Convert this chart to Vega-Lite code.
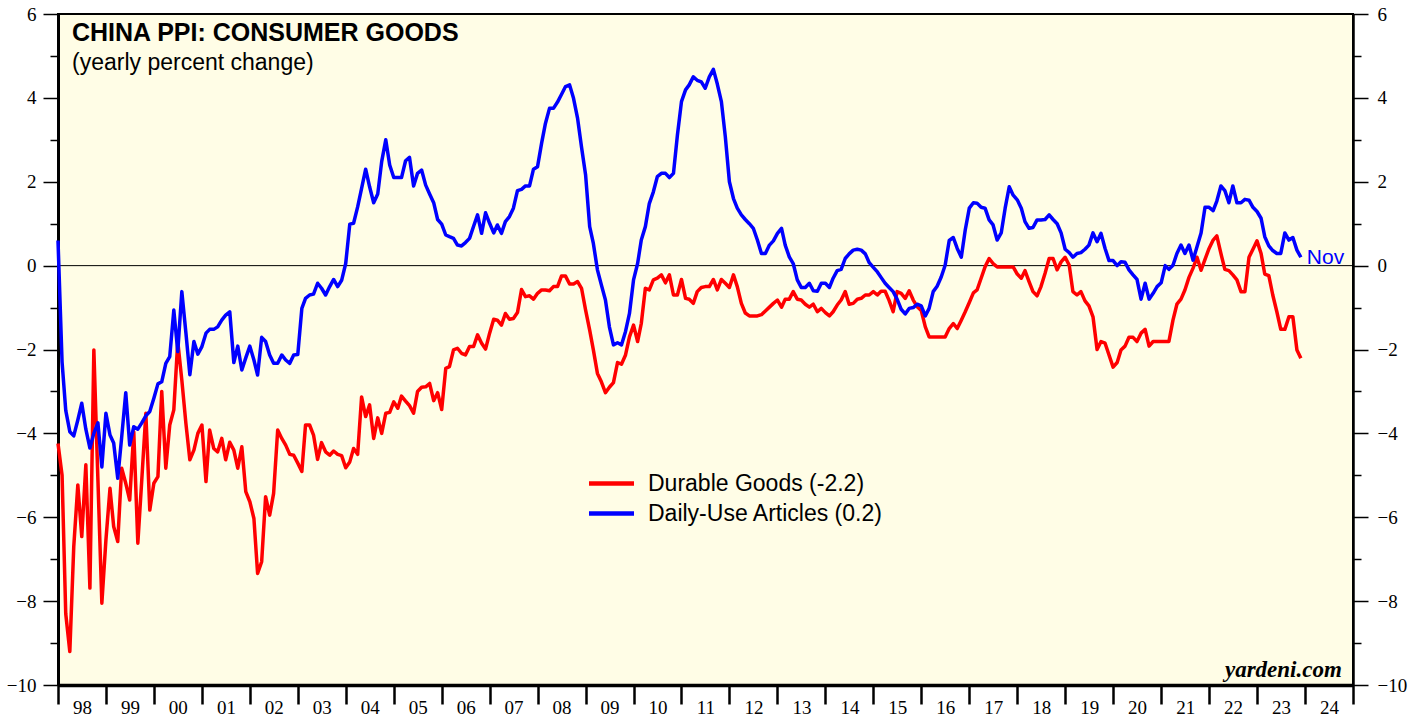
{
  "$schema": "https://vega.github.io/schema/vega-lite/v6.json",
  "width": 1295,
  "height": 671,
  "autosize": {"type": "none"},
  "padding": {"left": 58, "top": 14, "right": 56, "bottom": 30},
  "background": "white",
  "config": {
    "view": {"fill": "#FFFDE6", "stroke": "black", "strokeWidth": 2},
    "font": "Liberation Sans"
  },
  "title": {
    "text": "CHINA PPI: CONSUMER GOODS",
    "subtitle": "(yearly percent change)",
    "anchor": "start",
    "frame": "group",
    "orient": "top",
    "offset": 0,
    "dx": 14,
    "dy": 70,
    "font": "Liberation Sans",
    "fontSize": 25,
    "fontWeight": "bold",
    "color": "black",
    "subtitleFont": "Liberation Sans",
    "subtitleFontSize": 23,
    "subtitleColor": "black",
    "subtitlePadding": 6,
    "zindex": 1
  },
  "data": {
    "format": {"parse": {"d": "date:'%Y-%m'"}},
    "values": [
      {"d":"1997-12","r":-4.24,"b":0.6},
      {"d":"1998-01","r":-5.0,"b":-2.3},
      {"d":"1998-02","r":-8.3,"b":-3.45},
      {"d":"1998-03","r":-9.2,"b":-3.96},
      {"d":"1998-04","r":-6.7,"b":-4.06},
      {"d":"1998-05","r":-5.23,"b":-3.68},
      {"d":"1998-06","r":-6.46,"b":-3.28},
      {"d":"1998-07","r":-4.75,"b":-3.9},
      {"d":"1998-08","r":-7.69,"b":-4.35},
      {"d":"1998-09","r":-2.01,"b":-4.0},
      {"d":"1998-10","r":-5.11,"b":-3.75},
      {"d":"1998-11","r":-8.05,"b":-4.8},
      {"d":"1998-12","r":-6.54,"b":-3.52},
      {"d":"1999-01","r":-5.31,"b":-4.04},
      {"d":"1999-02","r":-6.22,"b":-4.23},
      {"d":"1999-03","r":-6.58,"b":-5.07},
      {"d":"1999-04","r":-4.83,"b":-4.09},
      {"d":"1999-05","r":-5.19,"b":-3.03},
      {"d":"1999-06","r":-5.59,"b":-4.28},
      {"d":"1999-07","r":-3.96,"b":-3.84},
      {"d":"1999-08","r":-6.62,"b":-3.9},
      {"d":"1999-09","r":-5.11,"b":-3.75},
      {"d":"1999-10","r":-3.52,"b":-3.58},
      {"d":"1999-11","r":-5.83,"b":-3.48},
      {"d":"1999-12","r":-5.19,"b":-3.16},
      {"d":"2000-01","r":-5.03,"b":-2.82},
      {"d":"2000-02","r":-3.0,"b":-2.77},
      {"d":"2000-03","r":-4.83,"b":-2.33},
      {"d":"2000-04","r":-3.8,"b":-2.17},
      {"d":"2000-05","r":-3.44,"b":-1.06},
      {"d":"2000-06","r":-1.81,"b":-2.05},
      {"d":"2000-07","r":-2.73,"b":-0.62},
      {"d":"2000-08","r":-3.76,"b":-1.6},
      {"d":"2000-09","r":-4.63,"b":-2.6},
      {"d":"2000-10","r":-4.4,"b":-1.81},
      {"d":"2000-11","r":-4.0,"b":-2.11},
      {"d":"2000-12","r":-3.8,"b":-1.93},
      {"d":"2001-01","r":-5.15,"b":-1.61},
      {"d":"2001-02","r":-3.92,"b":-1.52},
      {"d":"2001-03","r":-4.36,"b":-1.52},
      {"d":"2001-04","r":-4.44,"b":-1.46},
      {"d":"2001-05","r":-4.12,"b":-1.3},
      {"d":"2001-06","r":-4.63,"b":-1.18},
      {"d":"2001-07","r":-4.21,"b":-1.1},
      {"d":"2001-08","r":-4.4,"b":-2.31},
      {"d":"2001-09","r":-4.83,"b":-1.92},
      {"d":"2001-10","r":-4.32,"b":-2.49},
      {"d":"2001-11","r":-5.39,"b":-2.2},
      {"d":"2001-12","r":-5.63,"b":-1.92},
      {"d":"2002-01","r":-6.03,"b":-2.25},
      {"d":"2002-02","r":-7.34,"b":-2.61},
      {"d":"2002-03","r":-7.06,"b":-1.71},
      {"d":"2002-04","r":-5.51,"b":-1.81},
      {"d":"2002-05","r":-5.95,"b":-2.13},
      {"d":"2002-06","r":-5.43,"b":-2.33},
      {"d":"2002-07","r":-3.92,"b":-2.33},
      {"d":"2002-08","r":-4.12,"b":-2.13},
      {"d":"2002-09","r":-4.28,"b":-2.25},
      {"d":"2002-10","r":-4.5,"b":-2.33},
      {"d":"2002-11","r":-4.52,"b":-2.13},
      {"d":"2002-12","r":-4.71,"b":-2.12},
      {"d":"2003-01","r":-4.91,"b":-1.02},
      {"d":"2003-02","r":-3.8,"b":-0.78},
      {"d":"2003-03","r":-3.8,"b":-0.7},
      {"d":"2003-04","r":-4.04,"b":-0.68},
      {"d":"2003-05","r":-4.62,"b":-0.42},
      {"d":"2003-06","r":-4.22,"b":-0.54},
      {"d":"2003-07","r":-4.44,"b":-0.7},
      {"d":"2003-08","r":-4.52,"b":-0.5},
      {"d":"2003-09","r":-4.42,"b":-0.33},
      {"d":"2003-10","r":-4.5,"b":-0.5},
      {"d":"2003-11","r":-4.53,"b":-0.35},
      {"d":"2003-12","r":-4.82,"b":0.05},
      {"d":"2004-01","r":-4.68,"b":0.99},
      {"d":"2004-02","r":-4.36,"b":1.01},
      {"d":"2004-03","r":-4.5,"b":1.4},
      {"d":"2004-04","r":-3.13,"b":1.84},
      {"d":"2004-05","r":-3.6,"b":2.3},
      {"d":"2004-06","r":-3.32,"b":1.88},
      {"d":"2004-07","r":-4.12,"b":1.5},
      {"d":"2004-08","r":-3.63,"b":1.71},
      {"d":"2004-09","r":-4.0,"b":2.48},
      {"d":"2004-10","r":-3.52,"b":3.0},
      {"d":"2004-11","r":-3.5,"b":2.4},
      {"d":"2004-12","r":-3.25,"b":2.1},
      {"d":"2005-01","r":-3.4,"b":2.1},
      {"d":"2005-02","r":-3.11,"b":2.1},
      {"d":"2005-03","r":-3.23,"b":2.5},
      {"d":"2005-04","r":-3.34,"b":2.58},
      {"d":"2005-05","r":-3.52,"b":1.9},
      {"d":"2005-06","r":-3.0,"b":2.2},
      {"d":"2005-07","r":-2.9,"b":2.28},
      {"d":"2005-08","r":-2.89,"b":1.92},
      {"d":"2005-09","r":-2.81,"b":1.71},
      {"d":"2005-10","r":-3.22,"b":1.5},
      {"d":"2005-11","r":-3.03,"b":1.1},
      {"d":"2005-12","r":-3.43,"b":0.99},
      {"d":"2006-01","r":-2.45,"b":0.73},
      {"d":"2006-02","r":-2.41,"b":0.69},
      {"d":"2006-03","r":-2.01,"b":0.65},
      {"d":"2006-04","r":-1.97,"b":0.49},
      {"d":"2006-05","r":-2.09,"b":0.47},
      {"d":"2006-06","r":-2.13,"b":0.55},
      {"d":"2006-07","r":-1.93,"b":0.65},
      {"d":"2006-08","r":-1.93,"b":0.94},
      {"d":"2006-09","r":-1.65,"b":1.21},
      {"d":"2006-10","r":-1.85,"b":0.77},
      {"d":"2006-11","r":-1.99,"b":1.26},
      {"d":"2006-12","r":-1.61,"b":1.01},
      {"d":"2007-01","r":-1.28,"b":0.78},
      {"d":"2007-02","r":-1.3,"b":0.97},
      {"d":"2007-03","r":-1.42,"b":0.77},
      {"d":"2007-04","r":-1.14,"b":1.05},
      {"d":"2007-05","r":-1.28,"b":1.17},
      {"d":"2007-06","r":-1.26,"b":1.37},
      {"d":"2007-07","r":-1.12,"b":1.79},
      {"d":"2007-08","r":-0.57,"b":1.82},
      {"d":"2007-09","r":-0.74,"b":1.9},
      {"d":"2007-10","r":-0.72,"b":1.9},
      {"d":"2007-11","r":-0.8,"b":2.3},
      {"d":"2007-12","r":-0.66,"b":2.36},
      {"d":"2008-01","r":-0.58,"b":2.92},
      {"d":"2008-02","r":-0.58,"b":3.39},
      {"d":"2008-03","r":-0.6,"b":3.75},
      {"d":"2008-04","r":-0.5,"b":3.75},
      {"d":"2008-05","r":-0.5,"b":3.9},
      {"d":"2008-06","r":-0.25,"b":4.08},
      {"d":"2008-07","r":-0.25,"b":4.27},
      {"d":"2008-08","r":-0.44,"b":4.31},
      {"d":"2008-09","r":-0.44,"b":3.99},
      {"d":"2008-10","r":-0.38,"b":3.51},
      {"d":"2008-11","r":-0.54,"b":2.82},
      {"d":"2008-12","r":-1.06,"b":2.16},
      {"d":"2009-01","r":-1.54,"b":0.93},
      {"d":"2009-02","r":-2.01,"b":0.53},
      {"d":"2009-03","r":-2.57,"b":-0.1},
      {"d":"2009-04","r":-2.77,"b":-0.46},
      {"d":"2009-05","r":-3.03,"b":-0.82},
      {"d":"2009-06","r":-2.9,"b":-1.46},
      {"d":"2009-07","r":-2.79,"b":-1.89},
      {"d":"2009-08","r":-2.31,"b":-1.84},
      {"d":"2009-09","r":-2.35,"b":-1.89},
      {"d":"2009-10","r":-2.13,"b":-1.57},
      {"d":"2009-11","r":-1.7,"b":-1.14},
      {"d":"2009-12","r":-1.42,"b":-0.34},
      {"d":"2010-01","r":-1.81,"b":0.05},
      {"d":"2010-02","r":-1.38,"b":0.61},
      {"d":"2010-03","r":-0.54,"b":0.93},
      {"d":"2010-04","r":-0.58,"b":1.48},
      {"d":"2010-05","r":-0.34,"b":1.76},
      {"d":"2010-06","r":-0.3,"b":2.12},
      {"d":"2010-07","r":-0.22,"b":2.2},
      {"d":"2010-08","r":-0.41,"b":2.2},
      {"d":"2010-09","r":-0.22,"b":2.1},
      {"d":"2010-10","r":-0.7,"b":2.2},
      {"d":"2010-11","r":-0.7,"b":3.11},
      {"d":"2010-12","r":-0.33,"b":3.91},
      {"d":"2011-01","r":-0.78,"b":4.19},
      {"d":"2011-02","r":-0.8,"b":4.31},
      {"d":"2011-03","r":-0.9,"b":4.5},
      {"d":"2011-04","r":-0.62,"b":4.42},
      {"d":"2011-05","r":-0.52,"b":4.38},
      {"d":"2011-06","r":-0.5,"b":4.23},
      {"d":"2011-07","r":-0.5,"b":4.5},
      {"d":"2011-08","r":-0.33,"b":4.68},
      {"d":"2011-09","r":-0.58,"b":4.33},
      {"d":"2011-10","r":-0.33,"b":3.91},
      {"d":"2011-11","r":-0.42,"b":3.07},
      {"d":"2011-12","r":-0.52,"b":2.0},
      {"d":"2012-01","r":-0.22,"b":1.6},
      {"d":"2012-02","r":-0.5,"b":1.37},
      {"d":"2012-03","r":-0.9,"b":1.21},
      {"d":"2012-04","r":-1.13,"b":1.1},
      {"d":"2012-05","r":-1.2,"b":1.0},
      {"d":"2012-06","r":-1.2,"b":0.89},
      {"d":"2012-07","r":-1.2,"b":0.61},
      {"d":"2012-08","r":-1.17,"b":0.29},
      {"d":"2012-09","r":-1.08,"b":0.29},
      {"d":"2012-10","r":-0.99,"b":0.49},
      {"d":"2012-11","r":-0.9,"b":0.59},
      {"d":"2012-12","r":-0.82,"b":0.77},
      {"d":"2013-01","r":-0.99,"b":0.89},
      {"d":"2013-02","r":-0.8,"b":0.49},
      {"d":"2013-03","r":-0.8,"b":0.21},
      {"d":"2013-04","r":-0.62,"b":0.05},
      {"d":"2013-05","r":-0.8,"b":-0.34},
      {"d":"2013-06","r":-0.82,"b":-0.52},
      {"d":"2013-07","r":-0.92,"b":-0.52},
      {"d":"2013-08","r":-0.99,"b":-0.42},
      {"d":"2013-09","r":-0.92,"b":-0.6},
      {"d":"2013-10","r":-1.1,"b":-0.61},
      {"d":"2013-11","r":-1.02,"b":-0.42},
      {"d":"2013-12","r":-1.12,"b":-0.42},
      {"d":"2014-01","r":-1.2,"b":-0.52},
      {"d":"2014-02","r":-1.1,"b":-0.3},
      {"d":"2014-03","r":-0.94,"b":-0.12},
      {"d":"2014-04","r":-0.82,"b":-0.09},
      {"d":"2014-05","r":-0.62,"b":0.17},
      {"d":"2014-06","r":-0.92,"b":0.28},
      {"d":"2014-07","r":-0.9,"b":0.37},
      {"d":"2014-08","r":-0.8,"b":0.39},
      {"d":"2014-09","r":-0.78,"b":0.37},
      {"d":"2014-10","r":-0.7,"b":0.28},
      {"d":"2014-11","r":-0.7,"b":0.07},
      {"d":"2014-12","r":-0.62,"b":-0.04},
      {"d":"2015-01","r":-0.7,"b":-0.15},
      {"d":"2015-02","r":-0.61,"b":-0.28},
      {"d":"2015-03","r":-0.61,"b":-0.42},
      {"d":"2015-04","r":-0.83,"b":-0.52},
      {"d":"2015-05","r":-1.1,"b":-0.62},
      {"d":"2015-06","r":-0.62,"b":-0.8},
      {"d":"2015-07","r":-0.66,"b":-1.04},
      {"d":"2015-08","r":-0.78,"b":-1.15},
      {"d":"2015-09","r":-0.6,"b":-1.02},
      {"d":"2015-10","r":-0.82,"b":-1.0},
      {"d":"2015-11","r":-0.98,"b":-0.92},
      {"d":"2015-12","r":-1.07,"b":-0.96},
      {"d":"2016-01","r":-1.46,"b":-1.2},
      {"d":"2016-02","r":-1.7,"b":-1.02},
      {"d":"2016-03","r":-1.7,"b":-0.62},
      {"d":"2016-04","r":-1.7,"b":-0.49},
      {"d":"2016-05","r":-1.7,"b":-0.27},
      {"d":"2016-06","r":-1.7,"b":0.01},
      {"d":"2016-07","r":-1.5,"b":0.6},
      {"d":"2016-08","r":-1.38,"b":0.67},
      {"d":"2016-09","r":-1.5,"b":0.41},
      {"d":"2016-10","r":-1.3,"b":0.2},
      {"d":"2016-11","r":-1.1,"b":0.85},
      {"d":"2016-12","r":-0.88,"b":1.37},
      {"d":"2017-01","r":-0.65,"b":1.5},
      {"d":"2017-02","r":-0.58,"b":1.49},
      {"d":"2017-03","r":-0.3,"b":1.39},
      {"d":"2017-04","r":-0.03,"b":1.37},
      {"d":"2017-05","r":0.17,"b":1.09},
      {"d":"2017-06","r":0.05,"b":0.97},
      {"d":"2017-07","r":-0.03,"b":0.61},
      {"d":"2017-08","r":-0.03,"b":0.78},
      {"d":"2017-09","r":-0.03,"b":1.37},
      {"d":"2017-10","r":-0.03,"b":1.88},
      {"d":"2017-11","r":-0.03,"b":1.68},
      {"d":"2017-12","r":-0.2,"b":1.57},
      {"d":"2018-01","r":-0.3,"b":1.37},
      {"d":"2018-02","r":-0.12,"b":1.05},
      {"d":"2018-03","r":-0.38,"b":0.89},
      {"d":"2018-04","r":-0.62,"b":0.91},
      {"d":"2018-05","r":-0.72,"b":1.09},
      {"d":"2018-06","r":-0.5,"b":1.09},
      {"d":"2018-07","r":-0.18,"b":1.1},
      {"d":"2018-08","r":0.17,"b":1.21},
      {"d":"2018-09","r":0.17,"b":1.1},
      {"d":"2018-10","r":-0.1,"b":1.0},
      {"d":"2018-11","r":0.09,"b":0.78},
      {"d":"2018-12","r":0.2,"b":0.39},
      {"d":"2019-01","r":0.01,"b":0.31},
      {"d":"2019-02","r":-0.62,"b":0.2},
      {"d":"2019-03","r":-0.7,"b":0.29},
      {"d":"2019-04","r":-0.62,"b":0.31},
      {"d":"2019-05","r":-0.84,"b":0.39},
      {"d":"2019-06","r":-0.96,"b":0.49},
      {"d":"2019-07","r":-1.22,"b":0.78},
      {"d":"2019-08","r":-2.0,"b":0.57},
      {"d":"2019-09","r":-1.81,"b":0.77},
      {"d":"2019-10","r":-1.85,"b":0.41},
      {"d":"2019-11","r":-2.13,"b":0.12},
      {"d":"2019-12","r":-2.42,"b":0.12},
      {"d":"2020-01","r":-2.31,"b":0.0},
      {"d":"2020-02","r":-2.01,"b":0.09},
      {"d":"2020-03","r":-1.92,"b":0.08},
      {"d":"2020-04","r":-1.71,"b":-0.1},
      {"d":"2020-05","r":-1.71,"b":-0.22},
      {"d":"2020-06","r":-1.81,"b":-0.33},
      {"d":"2020-07","r":-1.61,"b":-0.8},
      {"d":"2020-08","r":-1.52,"b":-0.42},
      {"d":"2020-09","r":-1.92,"b":-0.8},
      {"d":"2020-10","r":-1.81,"b":-0.66},
      {"d":"2020-11","r":-1.81,"b":-0.5},
      {"d":"2020-12","r":-1.81,"b":-0.41},
      {"d":"2021-01","r":-1.81,"b":0.0},
      {"d":"2021-02","r":-1.81,"b":-0.09},
      {"d":"2021-03","r":-1.3,"b":0.01},
      {"d":"2021-04","r":-0.92,"b":0.29},
      {"d":"2021-05","r":-0.8,"b":0.49},
      {"d":"2021-06","r":-0.58,"b":0.29},
      {"d":"2021-07","r":-0.28,"b":0.49},
      {"d":"2021-08","r":-0.06,"b":0.13},
      {"d":"2021-09","r":0.2,"b":0.45},
      {"d":"2021-10","r":-0.11,"b":0.78},
      {"d":"2021-11","r":0.15,"b":1.39},
      {"d":"2021-12","r":0.41,"b":1.39},
      {"d":"2022-01","r":0.61,"b":1.31},
      {"d":"2022-02","r":0.71,"b":1.54},
      {"d":"2022-03","r":0.29,"b":1.9},
      {"d":"2022-04","r":-0.09,"b":1.79},
      {"d":"2022-05","r":-0.12,"b":1.5},
      {"d":"2022-06","r":-0.22,"b":1.9},
      {"d":"2022-07","r":-0.34,"b":1.5},
      {"d":"2022-08","r":-0.62,"b":1.5},
      {"d":"2022-09","r":-0.62,"b":1.58},
      {"d":"2022-10","r":0.2,"b":1.56},
      {"d":"2022-11","r":0.39,"b":1.39},
      {"d":"2022-12","r":0.59,"b":1.29},
      {"d":"2023-01","r":0.29,"b":1.13},
      {"d":"2023-02","r":-0.2,"b":0.69},
      {"d":"2023-03","r":-0.24,"b":0.47},
      {"d":"2023-04","r":-0.7,"b":0.36},
      {"d":"2023-05","r":-1.1,"b":0.29},
      {"d":"2023-06","r":-1.52,"b":0.29},
      {"d":"2023-07","r":-1.52,"b":0.78},
      {"d":"2023-08","r":-1.22,"b":0.61},
      {"d":"2023-09","r":-1.22,"b":0.67},
      {"d":"2023-10","r":-2.01,"b":0.37},
      {"d":"2023-11","r":-2.21,"b":0.2}
    ]
  },
  "layer": [
    {
      "data": {"values": [{"z": 0}]},
      "mark": {"type": "rule", "color": "black", "strokeWidth": 1},
      "encoding": {
        "y": {"field": "z", "type": "quantitative", "axis": null}
      }
    },
    {
      "transform": [{"fold": ["r", "b"], "as": ["k", "v"]}],
      "mark": {"type": "line", "strokeWidth": 3.5, "strokeJoin": "round"},
      "encoding": {
        "x": {
          "field": "d", "timeUnit": "yearmonth", "type": "temporal", "bandPosition": 1,
          "scale": {"domain": [{"year": 1998, "month": 1, "date": 1}, {"year": 2025, "month": 1, "date": 1}], "nice": false},
          "axis": {
            "orient": "bottom", "title": null, "grid": false,
            "tickCount": {"interval": "year", "step": 1},
            "labelExpr": "year(datum.value) > 2024 ? '' : timeFormat(datum.value, '%y')",
            "labelOffset": 24, "labelFlush": false, "labelOverlap": false,
            "tickSize": 19, "tickWidth": 2.5, "tickColor": "black",
            "domain": true, "domainColor": "black", "domainWidth": 3.5,
            "labelFont": "Liberation Serif", "labelFontSize": 19, "labelColor": "black", "labelPadding": -6
          }
        },
        "y": {
          "field": "v", "type": "quantitative",
          "scale": {"domain": [-10, 6], "nice": false},
          "axis": {
            "orient": "left", "title": null, "grid": false,
            "values": [-10, -9, -8, -7, -6, -5, -4, -3, -2, -1, 0, 1, 2, 3, 4, 5, 6],
            "labelExpr": "datum.value % 2 === 0 ? datum.label : ''",
            "tickSize": {"condition": {"test": "datum.value % 2 === 0", "value": 15}, "value": 8},
            "tickColor": "black", "tickWidth": 1.5,
            "domain": true, "domainColor": "black", "domainWidth": 3,
            "labelFont": "Liberation Serif", "labelFontSize": 19, "labelColor": "black", "labelPadding": 7
          }
        },
        "color": {
          "field": "k", "type": "nominal",
          "scale": {"domain": ["r", "b"], "range": ["#FF0000", "#0000FF"]},
          "legend": {
            "orient": "none", "legendX": 542, "legendY": 458, "direction": "vertical",
            "title": null, "padding": 0,
            "labelExpr": "datum.label === 'r' ? 'Durable Goods (-2.2)' : 'Daily-Use Articles (0.2)'",
            "symbolType": "M-2.5,0H2.5", "symbolSize": 324, "symbolStrokeWidth": 4.5,
            "labelFont": "Liberation Sans", "labelFontSize": 23, "labelColor": "black",
            "labelOffset": 25, "rowPadding": 6, "labelLimit": 400
          }
        }
      }
    },
    {
      "transform": [
        {"fold": ["r", "b"], "as": ["k", "v"]},
        {"filter": "datum.k === 'b' && year(datum.d) === 2023 && month(datum.d) === 10"}
      ],
      "mark": {"type": "text", "align": "left", "baseline": "middle", "dx": 6, "dy": 1, "font": "Liberation Sans", "fontSize": 21, "color": "#0000FF"},
      "encoding": {
        "x": {"field": "d", "timeUnit": "yearmonth", "type": "temporal", "bandPosition": 1},
        "y": {
          "field": "v", "type": "quantitative",
          "axis": {
            "orient": "right", "title": null, "grid": false,
            "values": [-10, -9, -8, -7, -6, -5, -4, -3, -2, -1, 0, 1, 2, 3, 4, 5, 6],
            "labelExpr": "datum.value % 2 === 0 ? datum.label : ''",
            "tickSize": {"condition": {"test": "datum.value % 2 === 0", "value": 15}, "value": 8},
            "tickColor": "black", "tickWidth": 1.5,
            "domain": true, "domainColor": "black", "domainWidth": 2.5,
            "labelFont": "Liberation Serif", "labelFontSize": 19, "labelColor": "black", "labelPadding": 9
          }
        },
        "text": {"field": "d", "type": "temporal", "format": "%b"}
      }
    },
    {
      "data": {"values": [{"t": "yardeni.com"}]},
      "mark": {"type": "text", "align": "right", "baseline": "alphabetic", "font": "Liberation Serif", "fontSize": 23, "fontWeight": "bold", "fontStyle": "italic", "color": "black"},
      "encoding": {
        "x": {"datum": {"year": 2024, "month": 10, "date": 8}, "type": "temporal"},
        "y": {"datum": -9.81, "type": "quantitative", "axis": null},
        "text": {"field": "t", "type": "nominal"}
      }
    }
  ],
  "resolve": {"axis": {"y": "independent"}}
}
